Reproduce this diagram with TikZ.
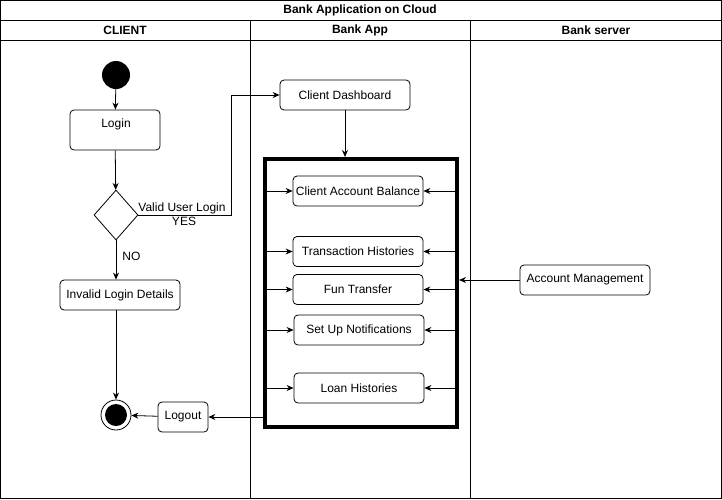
\documentclass[tikz,border=0pt]{standalone}
\usepackage{fontspec}
\setmainfont{Liberation Sans}
\usetikzlibrary{arrows.meta,shapes.geometric}
\begin{document}
\begin{tikzpicture}[x=1pt,y=-1pt,
  every node/.style={font=\fontsize{12}{14}\selectfont, inner sep=0pt},
  act/.style={draw, rounded corners=4pt, line width=0.8pt, align=center, minimum height=30pt},
  hdr/.style={font=\fontsize{12}{14}\selectfont\bfseries},
  lane/.style={draw, line width=0.8pt},
  arr/.style={-{Stealth[length=7pt,width=6pt]}, line width=0.8pt},
  lbl/.style={font=\fontsize{12}{14}\selectfont}
]
\useasboundingbox (0,0) rectangle (722,499);
% frame and lanes
\draw[lane] (0.5,0.5) rectangle (721,498);
\draw[lane] (0.5,20) -- (721,20);
\draw[lane] (0.5,40) -- (721,40);
\draw[lane] (250,20) -- (250,498);
\draw[lane] (470,20) -- (470,498);
\node[hdr] (title) at (360,10) {Bank Application on Cloud};
\node[hdr] (hclient) at (125,30) {CLIENT};
\node[hdr] (happ) at (360,30) {Bank App};
\node[hdr] (hserver) at (596,30) {Bank server};

% client lane
\node[circle, fill=black, minimum size=28pt] (start) at (116,75) {};
\node[act, minimum width=90pt, minimum height=40pt] (login) at (115,130) {};
\node[lbl] (logintxt) at (116,124) {Login};
\node[diamond, draw, line width=0.8pt, minimum width=44pt, minimum height=50pt] (dec) at (116,215) {};
\node[act, minimum width=120pt] (invalid) at (120,295) {Invalid Login Details};
\node[circle, draw, line width=0.8pt, minimum size=30pt] (endo) at (116,415) {};
\node[circle, fill=black, minimum size=22pt] (endi) at (116,415) {};
\node[act, minimum width=50pt] (logout) at (183,417) {Logout};

% bank app lane
\node[act, minimum width=130pt] (dash) at (345,95) {Client Dashboard};
\node[draw, line width=4pt, minimum width=192pt, minimum height=268pt] (group) at (361,293) {};
\node[act, minimum width=130pt] (bal) at (358,191) {Client Account Balance};
\node[act, minimum width=130pt] (trans) at (358,251.5) {Transaction Histories};
\node[act, minimum width=130pt] (fun) at (358,289.5) {Fun Transfer};
\node[act, minimum width=130pt] (notif) at (359,330) {Set Up Notifications};
\node[act, minimum width=130pt] (loan) at (359,388) {Loan Histories};

% server lane
\node[act, minimum width=130pt] (acct) at (585,280) {Account Management};

% connectors
\draw[arr] (start) -- (login);
\draw[arr] (login) -- (dec);
\draw[arr] (dec) -- node[lbl, right=6pt, pos=0.4] {NO} (dec |- invalid.north);
\draw[arr] (endo |- invalid.south) -- (endo.north);
\draw[arr] (logout) -- (endo);
\draw[arr] (group.west |- logout) -- (logout);
\draw[arr] (dec.east) -- (231,215) |- (dash.west);
\node[lbl, anchor=south] (vul) at (182,214) {Valid User Login};
\node[lbl, anchor=north] (yes) at (184,217) {YES};
\draw[arr] (dash.south) -- (dash.south |- group.north);
\foreach \b in {bal,trans,fun,notif,loan}{
  \draw[arr] (group.west |- \b) -- (\b.west);
  \draw[arr] (group.east |- \b) -- (\b.east);
}
\draw[arr] (acct.west) -- (group.east |- acct);
\end{tikzpicture}
\end{document}
